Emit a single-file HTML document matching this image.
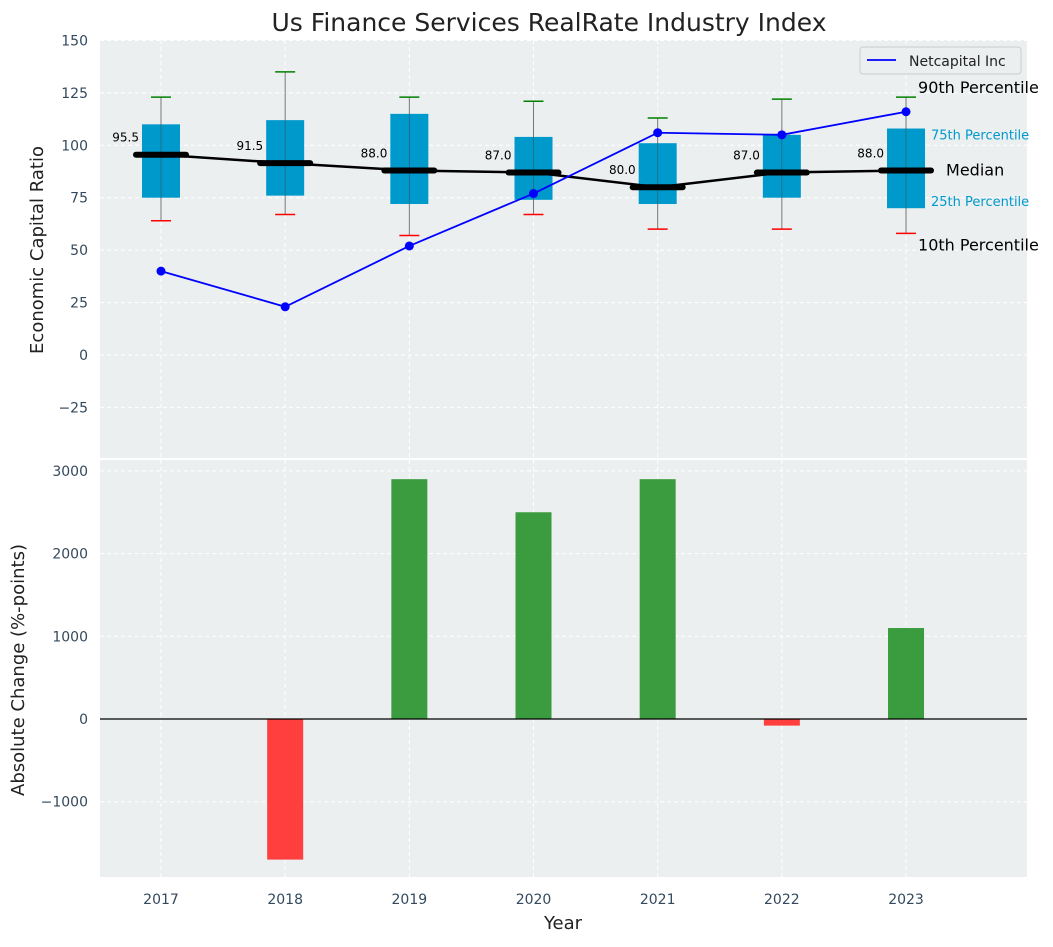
<!DOCTYPE html>
<html><head><meta charset="utf-8"><style>
body{margin:0;background:#fff;font-family:"Liberation Sans","DejaVu Sans",sans-serif}
svg text{font-family:"DejaVu Sans","Liberation Sans",sans-serif}
</style></head><body>
<svg id="c" width="1053" height="942" xmlns="http://www.w3.org/2000/svg"></svg>
<script>
const years=['2017','2018','2019','2020','2021','2022','2023'];
const q1=[75,76,72,74,72,75,70];
const q3=[110,112,115,104,101,105,108];
const med=[95.5,91.5,88,87,80,87,88];
const wLo=[64,67,57,67,60,60,58];
const wHi=[123,135,123,121,113,122,123];
const netcap=[40,23,52,77,106,105,116];
const change=[0,-1700,2900,2500,2900,-80,1100];
const topTicks=[150,125,100,75,50,25,0,-25];
const botTicks=[3000,2000,1000,0,-1000];

const svg=document.getElementById('c');const NS='http://www.w3.org/2000/svg';
function el(t,a,p){const e=document.createElementNS(NS,t);for(const k in a)e.setAttribute(k,a[k]);(p||svg).appendChild(e);return e;}
const L=100,R=1027;
const x=i=>161+i*124.17;
const yT=v=>355-v*2.097;
const yB=v=>719-v*0.0827;
const g1=el('rect',{x:L,y:40,width:R-L,height:418,fill:'#eceff0'});

const g2=el('rect',{x:L,y:460,width:R-L,height:417,fill:'#eceff0'});

years.forEach((y,i)=>{
 el('line',{x1:x(i),x2:x(i),y1:40,y2:458,stroke:'#fff','stroke-dasharray':'4,3'});
 el('line',{x1:x(i),x2:x(i),y1:460,y2:877,stroke:'#fff','stroke-dasharray':'4,3'});
 const t=el('text',{x:x(i),y:904,'text-anchor':'middle','font-size':14,fill:'#34495e'});t.textContent=y;
 
});
topTicks.forEach(v=>{
 el('line',{x1:L,x2:R,y1:yT(v),y2:yT(v),stroke:'#fff','stroke-dasharray':'4,3'});
 const t=el('text',{x:88,y:yT(v)+5,'text-anchor':'end','font-size':14,fill:'#34495e'});t.textContent=v<0?'−'+(-v):v;
 
});
botTicks.forEach(v=>{
 el('line',{x1:L,x2:R,y1:yB(v),y2:yB(v),stroke:'#fff','stroke-dasharray':'4,3'});
 const t=el('text',{x:88,y:yB(v)+5,'text-anchor':'end','font-size':14,fill:'#34495e'});t.textContent=v<0?'−'+(-v):v;
 
});
years.forEach((y,i)=>{
 const cx=x(i);
 el('line',{x1:cx,x2:cx,y1:yT(wHi[i]),y2:yT(wLo[i]),stroke:'#777','stroke-width':1});
 const b=el('rect',{x:cx-19,y:yT(q3[i]),width:38,height:yT(q1[i])-yT(q3[i]),fill:'#0099cc'});
 
 el('line',{x1:cx,x2:cx,y1:yT(q3[i]),y2:yT(q1[i]),stroke:'#444','stroke-width':0.8,opacity:0.6});
 el('line',{x1:cx-10,x2:cx+10,y1:yT(wHi[i]),y2:yT(wHi[i]),stroke:'green','stroke-width':1.5});
 el('line',{x1:cx-10,x2:cx+10,y1:yT(wLo[i]),y2:yT(wLo[i]),stroke:'red','stroke-width':1.5});
 el('line',{x1:cx-25,x2:cx+25,y1:yT(med[i]),y2:yT(med[i]),stroke:'#000','stroke-width':6,'stroke-linecap':'round'});
 const t=el('text',{x:cx-22,y:yT(med[i])-13,'text-anchor':'end','font-size':12,fill:'#000'});t.textContent=med[i].toFixed(1);
 
});
const mp=el('polyline',{points:med.map((v,i)=>x(i)+','+yT(v)).join(' '),fill:'none',stroke:'#000','stroke-width':2.5});

const np=el('polyline',{points:netcap.map((v,i)=>x(i)+','+yT(v)).join(' '),fill:'none',stroke:'blue','stroke-width':1.8});

netcap.forEach((v,i)=>{const c=el('circle',{cx:x(i),cy:yT(v),r:4.5,fill:'blue'});
 });
const ax=x(6);
[['90th Percentile',ax+12,yT(wHi[6])-4,16,'#000'],['75th Percentile',ax+25,yT(q3[6])+11,13,'#0099cc'],['Median',ax+40,yT(med[6])+5,16,'#000'],['25th Percentile',ax+25,yT(q1[6])-2,13,'#0099cc'],['10th Percentile',ax+12,yT(wLo[6])+17,16,'#000']].forEach(a=>{
 const t=el('text',{x:a[1],y:a[2],'font-size':a[3],fill:a[4]});t.textContent=a[0];
 
});
const lg=el('g',{});
el('rect',{x:860,y:47,width:161,height:27,rx:3,fill:'#eceff0',stroke:'#ccc'},lg);
el('line',{x1:867,x2:896,y1:60,y2:60,stroke:'blue','stroke-width':1.8},lg);
const lt=el('text',{x:909,y:66,'font-size':14,fill:'#222'},lg);lt.textContent='Netcapital Inc';
change.forEach((v,i)=>{
 const r=el('rect',{x:x(i)-18,y:Math.min(yB(v),yB(0)),width:36,height:Math.abs(yB(v)-yB(0)),fill:v>=0?'#3a9c3e':'#ff3e3e'});
 
});
el('line',{x1:L,x2:R,y1:yB(0),y2:yB(0),stroke:'#000','stroke-width':1.2});
const tt=el('text',{x:549,y:31,'text-anchor':'middle','font-size':25,fill:'#222'});tt.textContent='Us Finance Services RealRate Industry Index';

const y1=el('text',{x:0,y:0,'text-anchor':'middle','font-size':18,fill:'#222',transform:'translate(43,250) rotate(-90)'});y1.textContent='Economic Capital Ratio';

const y2=el('text',{x:0,y:0,'text-anchor':'middle','font-size':18,fill:'#222',transform:'translate(24,670) rotate(-90)'});y2.textContent='Absolute Change (%-points)';

const xt=el('text',{x:563,y:929,'text-anchor':'middle','font-size':18,fill:'#222'});xt.textContent='Year';

</script>
</body></html>
